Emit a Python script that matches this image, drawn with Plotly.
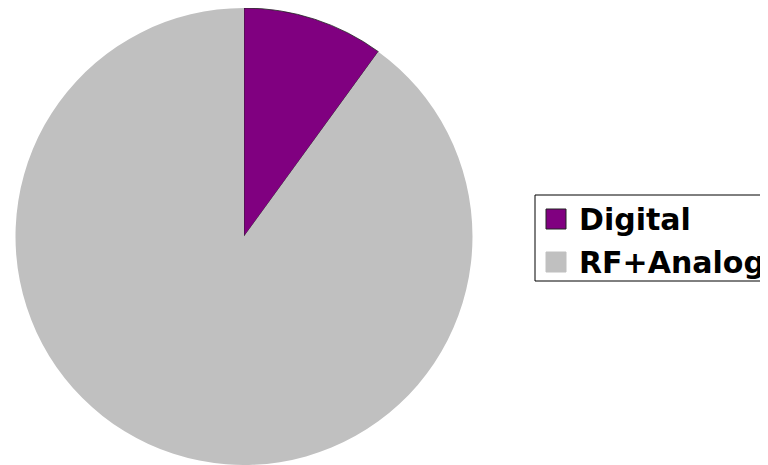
import plotly.graph_objects as go

labels = ["Digital", "RF+Analog"]
values = [10, 90]
colors = ["#800080", "#C0C0C0"]
swatch_borders = ["#222222", "#C0C0C0"]

W, H = 768, 457  # page body has an 8px margin; keep the page from overflowing vertically

fig = go.Figure(go.Pie(
    labels=labels, values=values, sort=False, direction="clockwise", rotation=0,
    marker=dict(colors=colors, line=dict(color=["#222222", "#C0C0C0"], width=[0.8, 0])),
    textinfo="none", hoverinfo="label+percent", showlegend=False,
    domain=dict(x=[7/W, 465/W], y=[0, 1]),
))

# manual legend, coordinates in figure pixels (page - 8)
def px(x):
    return x / W

def py(y):
    return 1 - y / H

shapes = [dict(type="rect", xref="paper", yref="paper",
               x0=px(527), x1=px(800), y0=py(187), y1=py(273),
               line=dict(color="black", width=1), fillcolor="white", layer="above")]
annotations = []
for i, (lab, col, bcol) in enumerate(zip(labels, colors, swatch_borders)):
    top = 201 + i * 43
    shapes.append(dict(type="rect", xref="paper", yref="paper",
                       x0=px(538), x1=px(558), y0=py(top), y1=py(top + 20),
                       line=dict(color=bcol, width=1), fillcolor=col, layer="above"))
    annotations.append(dict(xref="paper", yref="paper", x=px(569), y=py(top + 10),
                            xanchor="left", yanchor="middle", showarrow=False,
                            text=lab,
                            font=dict(family="DejaVu Sans", size=30, color="black", weight="bold")))

fig.update_layout(
    width=W, height=H, margin=dict(l=0, r=0, t=0, b=0),
    paper_bgcolor="white", plot_bgcolor="white",
    shapes=shapes, annotations=annotations,
)
fig.write_html("out.html", config=dict(displayModeBar=False),
               post_script="document.documentElement.style.overflow='hidden';"
                           "document.body.style.overflow='hidden';")
